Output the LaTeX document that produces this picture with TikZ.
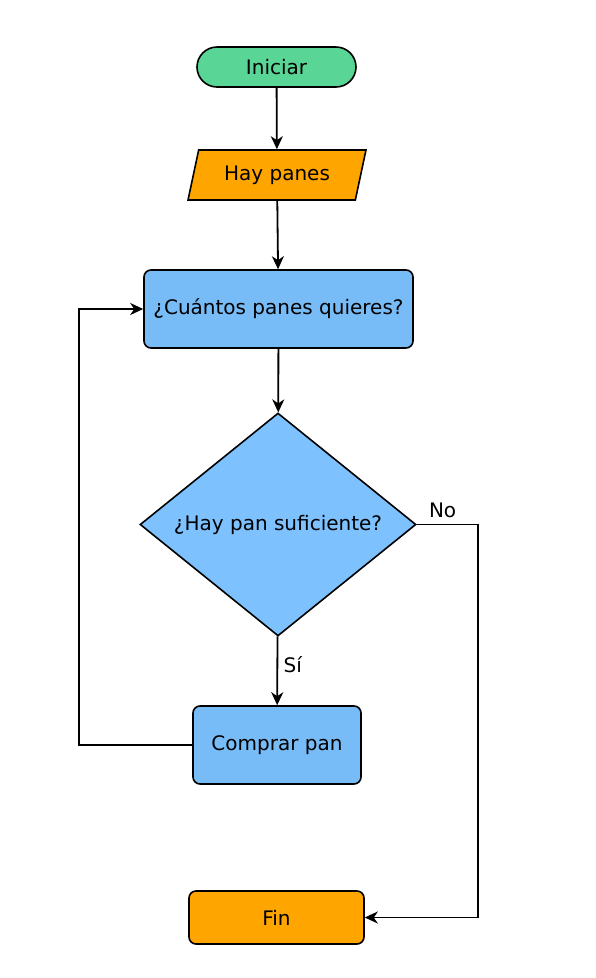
\documentclass[tikz,border=0pt]{standalone}
\usepackage{fontspec}
\setmainfont{DejaVu Sans}
\usetikzlibrary{shapes.geometric,arrows.meta}

\definecolor{verde}{RGB}{89,213,150}
\definecolor{naranja}{RGB}{255,165,0}
\definecolor{azul}{RGB}{125,193,255}
\definecolor{azulcaja}{RGB}{120,188,247}

\tikzset{
    base/.style={draw=black, line width=1.6pt, font=\fontsize{20}{24}\selectfont, inner sep=0pt},
    terminal/.style={base, fill=verde, rounded corners=20pt, minimum width=159pt, minimum height=40pt},
    datos/.style={base, fill=naranja, trapezium, trapezium left angle=69, trapezium right angle=111,
        trapezium stretches=true, minimum width=178pt, minimum height=50pt},
    proceso/.style={base, fill=azulcaja, rounded corners=7pt},
    decision/.style={base, fill=azul, diamond, minimum width=276pt, minimum height=223pt},
    fin/.style={base, fill=naranja, rounded corners=7pt, minimum width=175pt, minimum height=53pt},
    flecha/.style={line width=1.8pt, -{Stealth[length=13pt,width=12pt,inset=4pt]}},
    etiqueta/.style={font=\fontsize{20}{24}\selectfont}
}

\begin{document}
\begin{tikzpicture}[x=1pt, y=-1pt]
    \useasboundingbox (0,0) rectangle (595,978);

    \node[terminal] (iniciar) at (276.5,67) {Iniciar};
    \node[datos] (hay) at (277,175) {Hay panes};
    \node[proceso, minimum width=269pt, minimum height=78pt] (cuantos) at (278.5,309) {¿Cuántos panes quieres?};
    \node[decision] (pregunta) at (278,524.5) {};
    \node[etiqueta] at (pregunta) {¿Hay pan suficiente?};
    \node[proceso, minimum width=168pt, minimum height=78pt] (comprar) at (277,745) {Comprar pan};
    \node[fin] (final) at (276.5,917.5) {Fin};

    \draw[flecha] (iniciar) -- (hay);
    \draw[flecha] (hay) -- (cuantos);
    \draw[flecha] (cuantos) -- (pregunta);
    \draw[flecha] (pregunta) -- node[etiqueta, right, xshift=2pt, yshift=6pt] {Sí} (comprar);
    \draw[flecha] (pregunta.east) node[etiqueta, above right, xshift=8pt, yshift=2pt] {No}
        -- ++(61,0) |- (final.east);
    \draw[flecha] (comprar.west) -- ++(-113,0) |- (cuantos.west);
\end{tikzpicture}
\end{document}
